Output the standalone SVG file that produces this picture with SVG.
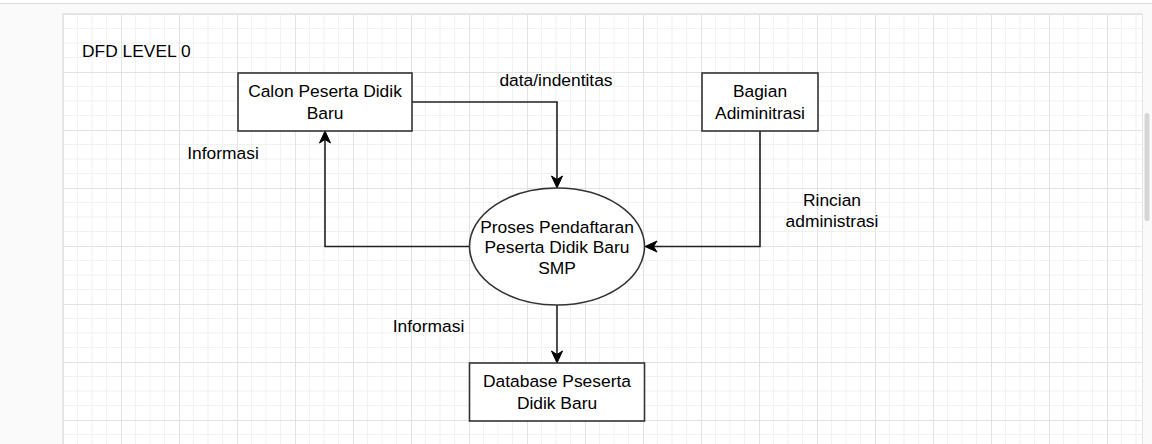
<svg xmlns="http://www.w3.org/2000/svg" width="1152" height="444" viewBox="0 0 1152 444">
  <defs>
    <pattern id="grid" patternUnits="userSpaceOnUse" x="63" y="14" width="58" height="58">
      <rect width="58" height="58" fill="#ffffff"/>
      <path d="M14.5,0V58M29,0V58M43.5,0V58M0,14.5H58M0,29H58M0,43.5H58" stroke="#f1f1f1" stroke-width="1" fill="none"/>
      <path d="M0.5,0V58M0,0.5H58" stroke="#e2e2e2" stroke-width="1" fill="none"/>
    </pattern>
    <marker id="arrow" viewBox="-14 -7 16 14" refX="-2" refY="0" markerWidth="16" markerHeight="14" markerUnits="userSpaceOnUse" orient="auto">
      <path d="M0,0 L-12,-5.5 L-8.5,0 L-12,5.5 Z" fill="#000" stroke="#000" stroke-width="1"/>
    </marker>
    <style>
      .t { font-family: "Liberation Sans", Arial, sans-serif; font-size: 17.4px; fill: #000; }
      .c { text-anchor: middle; }
      .box { fill: #ffffff; stroke: #333333; stroke-width: 1.6; }
      .edge { fill: none; stroke: #222222; stroke-width: 1.6; marker-end: url(#arrow); }
    </style>
  </defs>

  <!-- background / editor chrome -->
  <rect x="0" y="0" width="1152" height="444" fill="#fafafa"/>
  <rect x="0" y="0" width="1152" height="3" fill="#ffffff"/>
  <rect x="0" y="3" width="1152" height="1" fill="#dadada"/>
  <rect x="62" y="13" width="1081" height="431" fill="#e6e6e6"/>
  <rect x="63" y="14" width="1079" height="430" fill="url(#grid)"/>
  <rect x="1144.5" y="113" width="5" height="108" rx="2.5" fill="#d6d6d6"/>

  <g id="title">
    <text class="t" x="82" y="57">DFD LEVEL 0</text>
  </g>

  <g id="connectors">
    <path class="edge" d="M412,102 H557 V186"/>
    <path class="edge" d="M469.5,246.5 H325 V133"/>
    <path class="edge" d="M760,131 V246.5 H647"/>
    <path class="edge" d="M557,305 V361"/>
    <text class="t c" x="556" y="86">data/indentitas</text>
    <text class="t c" x="223" y="158.5">Informasi</text>
    <text class="t c" x="832" y="205.5">Rincian</text>
    <text class="t c" x="832" y="226.5">administrasi</text>
    <text class="t c" x="428.5" y="331.5">Informasi</text>
  </g>

  <g id="calon">
    <rect class="box" x="238" y="73" width="174" height="58"/>
    <text class="t c" x="325" y="97">Calon Peserta Didik</text>
    <text class="t c" x="325" y="118.5">Baru</text>
  </g>

  <g id="bagian">
    <rect class="box" x="702" y="73" width="116" height="58"/>
    <text class="t c" x="760" y="97">Bagian</text>
    <text class="t c" x="760" y="118.5">Adiminitrasi</text>
  </g>

  <g id="proses">
    <ellipse class="box" cx="557" cy="246.5" rx="87.5" ry="58.5"/>
    <text class="t c" x="557" y="232.5">Proses Pendaftaran</text>
    <text class="t c" x="557" y="253">Peserta Didik Baru</text>
    <text class="t c" x="557" y="273.5">SMP</text>
  </g>

  <g id="database">
    <rect class="box" x="469.5" y="363" width="175" height="58"/>
    <text class="t c" x="557" y="387">Database Pseserta</text>
    <text class="t c" x="557" y="408.5">Didik Baru</text>
  </g>
</svg>
